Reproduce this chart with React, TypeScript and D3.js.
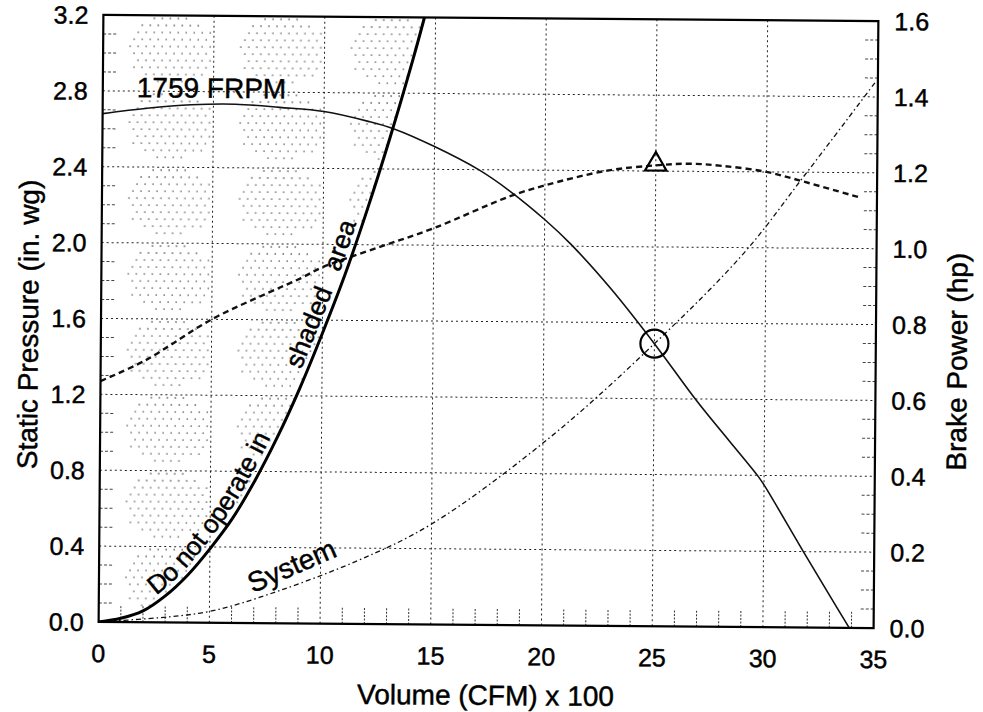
import React from "react";
import * as d3 from "d3";

// ---- data ----
const fanQ = [0, 2, 4, 6, 8, 10, 12, 13.2, 15, 17, 18.4, 20, 21.2, 23, 25, 27, 29.7, 30, 31.8, 33, 33.9];
const fanSP = [2.68, 2.71, 2.73, 2.735, 2.72, 2.7, 2.65, 2.61, 2.52, 2.4, 2.29, 2.14, 2.01, 1.78, 1.49, 1.18, 0.8, 0.75, 0.4, 0.17, 0];

const bhpQ = [0, 2, 5, 7.5, 9, 10, 12.6, 15, 18.4, 20, 22.8, 25, 26.5, 28, 30, 31.7, 34.2];
const bhpHP = [0.635, 0.69, 0.8, 0.87, 0.91, 0.94, 0.995, 1.045, 1.13, 1.16, 1.2, 1.215, 1.22, 1.215, 1.2, 1.175, 1.135];

const sysQ = [0, 3.2, 5, 7.1, 11.6, 15, 20.3, 25, 29, 31.7, 34.2, 34.9];
const sysSP = [0, 0.03, 0.06, 0.13, 0.33, 0.53, 0.99, 1.49, 1.97, 2.38, 2.77, 2.88];

const limitQ = [0, 1, 2, 3, 4, 5, 6, 7, 8, 9, 10, 11, 12, 13, 14, 14.5];
const limitSP = [0, 0.02, 0.06, 0.14, 0.25, 0.39, 0.55, 0.75, 0.98, 1.24, 1.53, 1.84, 2.19, 2.57, 2.98, 3.2];

const opQ = 25;
const opSP = 1.49;
const opHP = 1.215;

const xTicks = [0, 5, 10, 15, 20, 25, 30, 35];
const yLeftTicks = [0, 0.4, 0.8, 1.2, 1.6, 2.0, 2.4, 2.8, 3.2];
const yRightTicks = [0, 0.2, 0.4, 0.6, 0.8, 1.0, 1.2, 1.4, 1.6];

const fanLabel = "1759  FRPM";
const sysLabel = "System";
const warnParts = ["Do not operate in", "shaded", "area"];
const xTitle = "Volume (CFM) x 100";
const yLeftTitle = "Static Pressure (in. wg)";
const yRightTitle = "Brake Power (hp)";

// ---- layout ----
const W = 983;
const H = 712;
const L = 101;
const R = 876;
const T = 18;
const B = 625;
const FONT = "'Liberation Sans', Arial, sans-serif";
const TILT = 0.45;

export default function App() {
  const x = d3.scaleLinear().domain([0, 35]).range([L, R]);
  const y = d3.scaleLinear().domain([0, 3.2]).range([B, T]);
  const y2 = d3.scaleLinear().domain([0, 1.6]).range([B, T]);

  const lineSP = d3
    .line<[number, number]>()
    .x((d) => x(d[0]))
    .y((d) => y(d[1]))
    .curve(d3.curveCatmullRom.alpha(0.5));
  const lineHP = d3
    .line<[number, number]>()
    .x((d) => x(d[0]))
    .y((d) => y2(d[1]))
    .curve(d3.curveCatmullRom.alpha(0.5));

  const fanPts = fanQ.map((q, i) => [q, fanSP[i]] as [number, number]);
  const bhpPts = bhpQ.map((q, i) => [q, bhpHP[i]] as [number, number]);
  const sysPts = sysQ.map((q, i) => [q, sysSP[i]] as [number, number]);
  const limPts = limitQ.map((q, i) => [q, limitSP[i]] as [number, number]);

  const limD = lineSP(limPts) || "";
  const shadeD = limD + `L${x(0)},${y(3.2)}Z`;

  // stipple pattern tile (one per grid cell)
  const tileW = x(5) - x(0);
  const tileH = y(2.8) - y(3.2);
  const dots: { cx: number; cy: number }[] = [];
  const cx0 = tileW * 0.62;
  const cy0 = tileH * 0.45;
  const rx = tileW * 0.38;
  const ry = tileH * 0.44;
  let row = 0;
  for (let py = 3; py < tileH; py += 7) {
    const off = row % 2 === 0 ? 0 : 4;
    for (let px = 3 + off; px < tileW; px += 8) {
      const dx = (px - cx0) / rx;
      const dy = (py - cy0) / ry;
      if (Math.pow(Math.abs(dx), 2.5) + Math.pow(Math.abs(dy), 2.5) <= 1) dots.push({ cx: px, cy: py });
    }
    row++;
  }

  const gridV = xTicks.filter((t) => t > 0 && t < 35);
  const gridH = yLeftTicks.filter((t) => t > 0 && t < 3.2);
  const minorX = d3.range(1, 35).filter((t) => t % 5 !== 0);
  const minorY = d3.range(1, 32).map((i) => i / 10).filter((_, i) => (i + 1) % 4 !== 0);

  const txt = { fill: "#000", stroke: "#000", strokeWidth: 0.45 };

  return (
    <svg
      width={W}
      height={H}
      viewBox={`0 0 ${W} ${H}`}
      style={{ position: "absolute", left: 0, top: 0, background: "#fff", fontFamily: FONT }}
    >
      <defs>
        <pattern id="stip" patternUnits="userSpaceOnUse" x={L} y={T} width={tileW} height={tileH}>
          {dots.map((d, i) => (
            <circle key={i} cx={d.cx} cy={d.cy} r={0.9} fill="#777" />
          ))}
        </pattern>
        <clipPath id="plotClip">
          <rect x={L} y={T} width={R - L} height={B - T} />
        </clipPath>
        <path id="limitPath" d={limD} />
      </defs>

      <rect x={0} y={0} width={W} height={H} fill="#fff" />

      <g transform={`rotate(${TILT},${(L + R) / 2},${(T + B) / 2})`}>
        {/* shaded area */}
        <path d={shadeD} fill="url(#stip)" clipPath="url(#plotClip)" />

        {/* grid */}
        {gridV.map((t) => (
          <line key={"gv" + t} x1={x(t)} x2={x(t)} y1={T} y2={B} stroke="#222" strokeWidth={1} strokeDasharray="2,3" />
        ))}
        {gridH.map((t) => (
          <line key={"gh" + t} x1={L} x2={R} y1={y(t)} y2={y(t)} stroke="#222" strokeWidth={1} strokeDasharray="2,3" />
        ))}
        {/* minor ticks */}
        {minorX.map((t) => (
          <line key={"mx" + t} x1={x(t)} x2={x(t)} y1={B} y2={B - 17} stroke="#333" strokeWidth={1} strokeDasharray="2,1.5" />
        ))}
        {minorY.map((t) => (
          <line key={"ml" + t} x1={L} x2={L + 15} y1={y(t)} y2={y(t)} stroke="#444" strokeWidth={1} strokeDasharray="3,2" />
        ))}
        {minorY.map((t) => (
          <line key={"mr" + t} x1={R} x2={R - 15} y1={y(t)} y2={y(t)} stroke="#444" strokeWidth={1} strokeDasharray="3,2" />
        ))}

        <g clipPath="url(#plotClip)">
          {/* system curve */}
          <path d={lineSP(sysPts) || ""} fill="none" stroke="#111" strokeWidth={1.3} strokeDasharray="5,3,1.5,3" />
          {/* brake power */}
          <path d={lineHP(bhpPts) || ""} fill="none" stroke="#111" strokeWidth={2.4} strokeDasharray="6,4" />
          {/* fan curve */}
          <path d={lineSP(fanPts) || ""} fill="none" stroke="#111" strokeWidth={1.6} />
          {/* limit curve */}
          <path d={limD} fill="none" stroke="#000" strokeWidth={3} />
        </g>

        {/* markers */}
        <circle cx={x(opQ)} cy={y(opSP)} r={14} fill="none" stroke="#000" strokeWidth={2.2} />
        <path
          d={d3.symbol().type(d3.symbolTriangle).size(200)() || ""}
          transform={`translate(${x(opQ)},${y2(opHP) - 1})`}
          fill="none"
          stroke="#000"
          strokeWidth={2.2}
        />

        {/* plot frame */}
        <rect x={L} y={T} width={R - L} height={B - T} fill="none" stroke="#000" strokeWidth={2.2} />

        {/* curve labels */}
        <text x={135} y={100} fontSize={28} {...txt}>
          {fanLabel}
        </text>
        <text transform={`translate(255,595) rotate(-24)`} fontSize={28} {...txt}>
          {sysLabel}
        </text>
        {[66, 340, 445].map((off, i) => (
          <text key={"w" + i} fontSize={26} {...txt}>
            <textPath href="#limitPath" startOffset={off}>
              <tspan dy={-6}>{warnParts[i]}</tspan>
            </textPath>
          </text>
        ))}

        {/* tick labels */}
        {xTicks.map((t) => (
          <text key={"xt" + t} x={x(t)} y={665} fontSize={25} textAnchor="middle" {...txt}>
            {t}
          </text>
        ))}
        {yLeftTicks.map((t) => (
          <text key={"yl" + t} x={86} y={y(t) + 9} fontSize={25} textAnchor="end" {...txt}>
            {t.toFixed(1)}
          </text>
        ))}
        {yRightTicks.map((t) => (
          <text key={"yr" + t} x={892} y={y2(t) + 9} fontSize={25} textAnchor="start" {...txt}>
            {t.toFixed(1)}
          </text>
        ))}

        {/* axis titles */}
        <text x={(L + R) / 2} y={705} fontSize={28} textAnchor="middle" {...txt}>
          {xTitle}
        </text>
        <text transform={`translate(38,328) rotate(-90)`} fontSize={28} textAnchor="middle" {...txt}>
          {yLeftTitle}
        </text>
        <text transform={`translate(967,358) rotate(-90)`} fontSize={28} textAnchor="middle" {...txt}>
          {yRightTitle}
        </text>
      </g>
    </svg>
  );
}
